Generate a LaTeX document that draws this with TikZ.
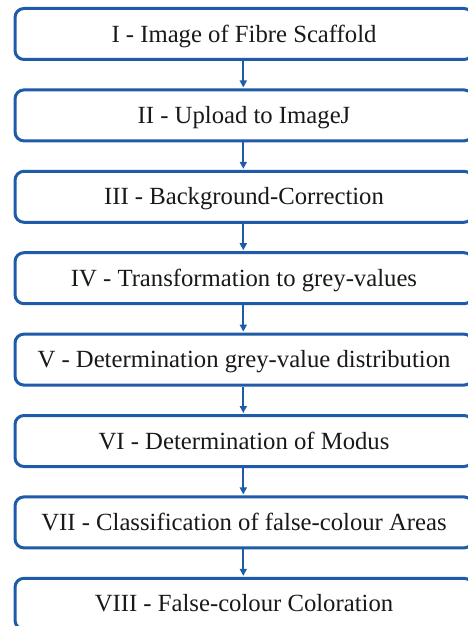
\documentclass[tikz,border=0pt]{standalone}
\usepackage{fontspec}
\setmainfont{Liberation Serif}
\newfontfamily\timesfont{Liberation Serif}
\usetikzlibrary{arrows.meta}
\definecolor{boxblue}{RGB}{31,91,168}
\definecolor{txt}{RGB}{25,25,25}
\begin{document}
\begin{tikzpicture}[x=1pt,y=-1pt,
  stepbox/.style={draw=boxblue, line width=3pt, rounded corners=9pt, fill=white,
    minimum width=458pt, minimum height=51pt, inner sep=0pt, text=txt,
    text height=16.3pt, text depth=0pt,
    font=\timesfont\fontsize{24.7}{30}\selectfont},
  flow/.style={draw=boxblue, line width=2pt, -{Triangle[length=7pt,width=7pt]}, shorten >=1pt}]
\useasboundingbox (0,0) rectangle (468,626);
\node[stepbox] (b1) at (244,34) {I - Image of Fibre Scaffold};
\node[stepbox] (b2) at (244,115.4) {II - Upload to ImageJ};
\node[stepbox] (b3) at (244,196.8) {III - Background-Correction};
\node[stepbox] (b4) at (244,278.2) {IV - Transformation to grey-values};
\node[stepbox] (b5) at (244,359.6) {V - Determination grey-value distribution};
\node[stepbox] (b6) at (244,441) {VI - Determination of Modus};
\node[stepbox] (b7) at (244,522.4) {VII - Classification of false-colour Areas};
\node[stepbox] (b8) at (244,603.8) {VIII - False-colour Coloration};
\foreach \a/\b in {b1/b2,b2/b3,b3/b4,b4/b5,b5/b6,b6/b7,b7/b8}
  \draw[flow] ([xshift=-0.7pt]\a.south) -- ([xshift=-0.7pt]\b.north);
\end{tikzpicture}
\end{document}
